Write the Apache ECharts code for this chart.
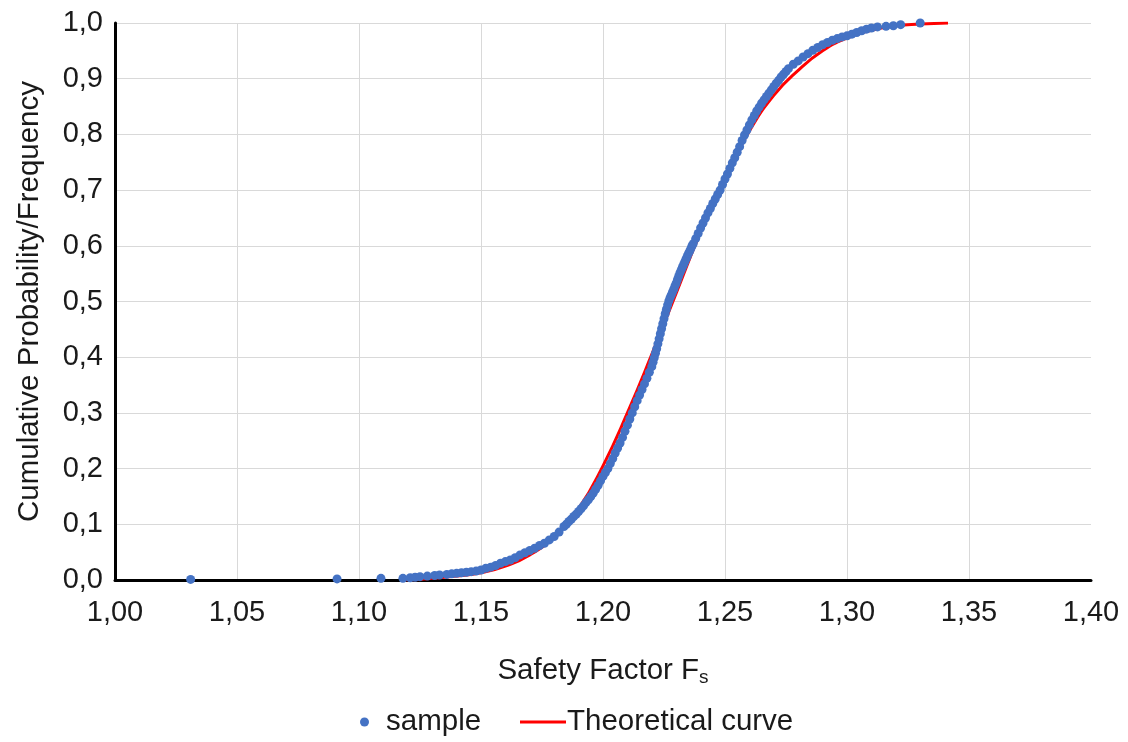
<!DOCTYPE html>
<html>
<head>
<meta charset="utf-8">
<script src="https://cdn.jsdelivr.net/npm/echarts@6/dist/echarts.min.js"></script>
<style>
html,body{margin:0;padding:0;background:#fff;}
#c{width:1128px;height:742px;}
</style>
</head>
<body>
<div id="c"></div>
<script>
const sampleX = [
1.031,1.091,1.109,1.118,1.121,1.123,1.125,1.128,1.131,1.133,1.136,1.138,1.140,1.142,1.144,1.146,1.148,
1.150,1.152,1.154,1.156,1.158,1.160,1.162,1.164,1.166,1.168,1.170,1.172,1.174,1.176,1.178,1.180,1.182,
1.184,1.185,1.186,1.187,1.188,1.189,1.190,1.191,1.192,1.193,1.194,1.195,1.196,1.197,1.198,1.199,
1.200,1.201,1.202,1.203,1.204,1.205,1.206,1.207,1.208,1.209,1.210,1.211,1.212,1.213,1.214,1.215,1.216,
1.217,1.218,1.219,1.220,1.2205,1.221,1.2215,1.222,1.2225,1.223,1.2235,1.224,1.2245,1.225,1.2255,
1.226,1.2265,1.227,1.2275,1.228,1.2285,1.229,1.2295,1.230,1.2305,1.231,1.2315,1.232,1.2325,1.233,1.2335,
1.234,1.2345,1.235,1.2355,1.236,1.2365,1.237,1.238,1.239,1.240,1.241,1.242,1.243,1.244,1.245,1.246,
1.247,1.248,1.249,1.250,1.251,1.252,1.253,1.254,1.255,1.256,1.257,1.258,1.259,1.260,1.261,1.262,1.263,
1.264,1.265,1.266,1.267,1.268,1.269,1.270,1.271,1.272,1.273,1.274,1.275,1.276,1.278,1.280,1.282,1.284,
1.286,1.288,1.290,1.292,1.294,1.296,1.298,1.300,1.302,1.304,1.306,1.308,1.310,1.3125,1.316,1.319,
1.322,1.330
];
const sampleP = [
0.001,0.002,0.003,0.003,0.004,0.005,0.006,0.007,0.008,0.009,0.010,0.011,0.012,0.013,0.014,0.015,0.016,
0.018,0.021,0.023,0.026,0.030,0.033,0.036,0.040,0.045,0.049,0.053,0.057,0.062,0.066,0.072,0.078,0.086,
0.096,0.100,0.105,0.109,0.114,0.118,0.123,0.128,0.133,0.139,0.144,0.150,0.156,0.163,0.170,0.178,
0.186,0.193,0.200,0.209,0.218,0.228,0.237,0.246,0.256,0.267,0.278,0.289,0.300,0.311,0.322,0.332,0.342,
0.352,0.362,0.373,0.383,0.391,0.399,0.407,0.415,0.424,0.433,0.442,0.451,0.460,0.469,0.478,
0.486,0.494,0.501,0.507,0.512,0.517,0.522,0.528,0.533,0.539,0.545,0.551,0.556,0.561,0.566,0.571,
0.576,0.581,0.586,0.590,0.595,0.600,0.604,0.613,0.622,0.632,0.641,0.650,0.659,0.667,0.676,0.684,
0.692,0.700,0.710,0.720,0.729,0.739,0.749,0.758,0.768,0.778,0.789,0.799,0.808,0.817,0.826,0.834,0.842,
0.849,0.856,0.862,0.868,0.874,0.880,0.886,0.892,0.897,0.903,0.908,0.913,0.918,0.926,0.932,0.939,0.945,
0.951,0.956,0.961,0.965,0.969,0.972,0.975,0.977,0.980,0.983,0.986,0.989,0.991,0.993,0.994,0.995,
0.997,1.000
];
// Theoretical curve
const theoX = [1.118,1.125,1.13,1.14,1.15,1.16,1.17,1.18,1.19,1.20,1.21,1.22,1.23,1.24,1.25,1.26,1.27,1.28,1.29,1.30,1.31,1.32,1.33,1.3414];
const theoP = [0.000,0.001,0.003,0.007,0.013,0.025,0.045,0.078,0.128,0.205,0.300,0.405,0.515,0.625,0.722,0.806,0.870,0.915,0.950,0.973,0.987,0.995,0.998,1.000];

const sampleData = sampleX.map((x, i) => [x, sampleP[i]]);
const theoData = theoX.map((x, i) => [x, theoP[i]]);

const FONT = 'Liberation Sans, Arial, sans-serif';
const TXT = '#1a1a1a';
const chart = echarts.init(document.getElementById('c'), null, {renderer: 'canvas'});
chart.setOption({
  backgroundColor: '#ffffff',
  animation: false,
  grid: {left: 115, right: 37, top: 23, bottom: 162, containLabel: false},
  xAxis: {
    type: 'value', min: 1.0, max: 1.4, interval: 0.05,
    axisLine: {show: true, lineStyle: {color: '#000', width: 3}},
    axisTick: {show: false},
    splitLine: {show: true, showMaxLine: false, lineStyle: {color: '#d9d9d9', width: 1}},
    axisLabel: {fontFamily: FONT, fontSize: 29, color: TXT, margin: 18,
      formatter: v => v.toFixed(2).replace('.', ',')},
    name: '{a|Safety Factor F}{s|s}',
    nameLocation: 'middle', nameGap: 74,
    nameTextStyle: {rich: {
      a: {fontFamily: FONT, fontSize: 29.5, color: TXT},
      s: {fontFamily: FONT, fontSize: 19, color: TXT, verticalAlign: 'bottom', padding: [14, 0, 0, 0]}
    }}
  },
  yAxis: {
    type: 'value', min: 0, max: 1, interval: 0.1,
    axisLine: {show: true, lineStyle: {color: '#000', width: 3}},
    axisTick: {show: false},
    splitLine: {show: true, lineStyle: {color: '#d9d9d9', width: 1}},
    axisLabel: {fontFamily: FONT, fontSize: 29, color: TXT, margin: 12,
      formatter: v => v.toFixed(1).replace('.', ',')},
    name: 'Cumulative Probability/Frequency',
    nameLocation: 'middle', nameGap: 70,
    nameTextStyle: {fontFamily: FONT, fontSize: 29.5, color: TXT}
  },
  legend: [
    {data: ['sample'], bottom: 0, left: 355, icon: 'circle', itemWidth: 9, itemHeight: 9,
     textStyle: {fontFamily: FONT, fontSize: 29.5, color: TXT, padding: [0, 0, 0, 12]}},
    {data: ['Theoretical curve'], bottom: 0, left: 515, icon: 'rect', itemWidth: 46, itemHeight: 3,
     textStyle: {fontFamily: FONT, fontSize: 29.5, color: TXT, padding: [0, 0, 0, -4]}}
  ],
  series: [
    {name: 'Theoretical curve', type: 'line', data: theoData, smooth: true,
     symbol: 'none', z: 2, lineStyle: {color: '#ff0000', width: 3}, itemStyle: {color: '#ff0000'}},
    {name: 'sample', type: 'scatter', data: sampleData, symbolSize: 9, z: 3,
     itemStyle: {color: '#4472c4', opacity: 1}}
  ]
});
</script>
</body>
</html>
